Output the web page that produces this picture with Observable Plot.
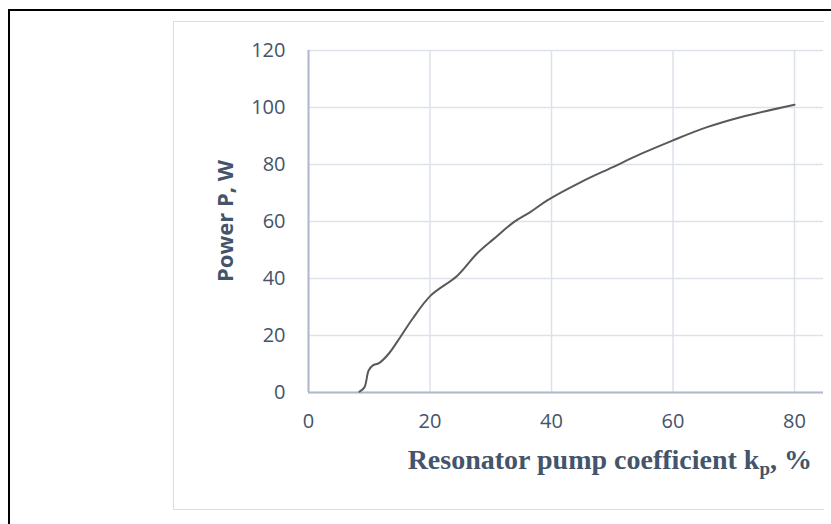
<!DOCTYPE html>
<html>
<head>
<meta charset="utf-8">
<script src="https://cdn.jsdelivr.net/npm/d3@7"></script>
<script src="https://cdn.jsdelivr.net/npm/@observablehq/plot@0.6"></script>
<style>
  body { margin: 0; background: white; }
  #wrap { position: relative; width: 831px; height: 524px; overflow: hidden; background: white; }
  .outer { position: absolute; left: 8px; top: 9px; width: 900px; height: 600px;
           border-top: 2px solid #000; border-left: 2px solid #000; pointer-events: none; }
  .inner { position: absolute; left: 173px; top: 21px; width: 650px; height: 487px;
           border-top: 1px solid #d9dde5; border-left: 1px solid #d9dde5; border-bottom: 1px solid #d9dde5;
           pointer-events: none; }
</style>
</head>
<body>
<div id="wrap"></div>
<script>
// Data
const kp    = [8.4, 9.2, 9.9, 10.6, 11.6, 13.2, 15.1, 17.1, 20.1, 24.5, 27.7, 30.5, 33.8, 36.5, 39.3, 45, 50, 54.7, 59.9, 65.6, 71.1, 80];
const power = [0.3, 1.8, 7.7, 9.5, 10.3, 13.6, 19.4, 25.8, 34.0, 41.0, 48.7, 53.9, 59.8, 63.3, 67.4, 74, 79, 83.7, 88.4, 93.1, 96.6, 101];
const xTicks = [0, 20, 40, 60, 80];
const yTicks = [0, 20, 40, 60, 80, 100, 120];
const xLabel = "Resonator pump coefficient k";
const xLabelSub = "p";
const xLabelTail = ", %";
const yLabel = "Power P, W";

const data = kp.map((k, i) => ({k, p: power[i]}));

const gridColor = "#dde2ea";
const axisColor = "#adb9ca";
const textColor = "#44546a";

const chart = Plot.plot({
  width: 831,
  height: 524,
  marginLeft: 308,
  marginRight: 8,
  marginTop: 50,
  marginBottom: 132,
  style: {background: "transparent", fontFamily: "Open Sans", fontSize: "20px", color: textColor},
  x: {domain: [0, 84.77], ticks: xTicks},
  y: {domain: [0, 120], ticks: yTicks},
  marks: [
    Plot.gridY(yTicks, {stroke: gridColor, strokeOpacity: 1, strokeWidth: 1.5}),
    Plot.gridX(xTicks, {stroke: gridColor, strokeOpacity: 1, strokeWidth: 1.5}),
    Plot.ruleY([0], {stroke: axisColor, strokeWidth: 2}),
    Plot.ruleX([0], {stroke: axisColor, strokeWidth: 2}),
    Plot.axisX(xTicks, {tickSize: 0, tickPadding: 21, label: null, fill: textColor, fontSize: 20}),
    Plot.axisY(yTicks, {tickSize: 0, tickPadding: 23, label: null, fill: textColor, fontSize: 20}),
    Plot.line(data, {x: "k", y: "p", stroke: "#595959", strokeWidth: 2, curve: "catmull-rom"})
  ]
});

const wrap = document.getElementById("wrap");
wrap.appendChild(chart);

const svg = d3.select(chart);
// Y axis title
svg.append("text")
  .attr("transform", "translate(233,221) rotate(-90)")
  .attr("text-anchor", "middle")
  .attr("font-family", "Open Sans")
  .attr("font-weight", "bold")
  .attr("font-size", 22)
  .attr("fill", textColor)
  .text(yLabel);
// X axis title with subscript
const xt = svg.append("text")
  .attr("x", 812).attr("y", 469)
  .attr("text-anchor", "end")
  .attr("font-family", "Liberation Serif")
  .attr("font-weight", "bold")
  .attr("font-size", 28)
  .attr("fill", textColor);
xt.append("tspan").text(xLabel);
xt.append("tspan").attr("font-size", 19).attr("dy", 6).text(xLabelSub);
xt.append("tspan").attr("dy", -6).text(xLabelTail);

const inner = document.createElement("div"); inner.className = "inner"; wrap.appendChild(inner);
const outer = document.createElement("div"); outer.className = "outer"; wrap.appendChild(outer);
</script>
</body>
</html>
